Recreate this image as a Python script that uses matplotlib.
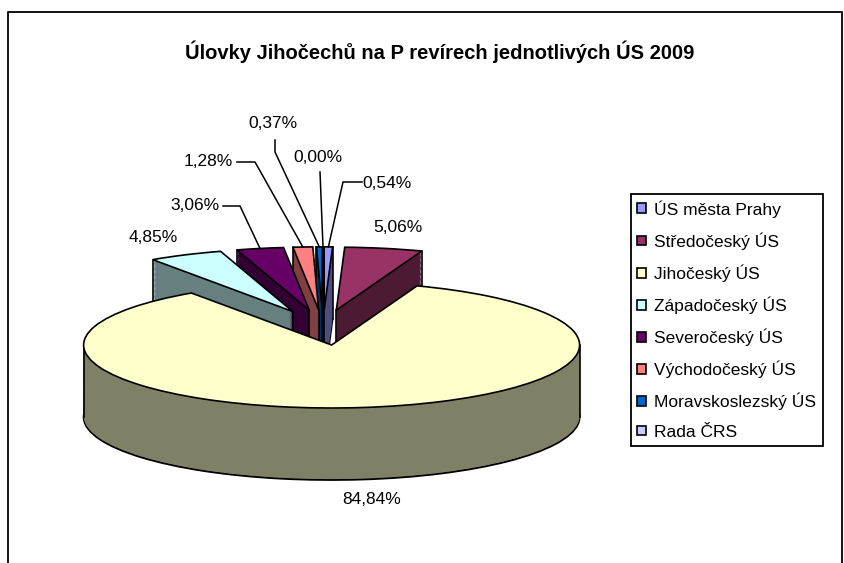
import numpy as np
import matplotlib
matplotlib.use("Agg")
import matplotlib.pyplot as plt
from matplotlib.lines import Line2D

plt.rcParams['font.family'] = ['Liberation Sans', 'DejaVu Sans']

title = "Úlovky Jihočechů na P revírech jednotlivých ÚS 2009"
labels = ['ÚS města Prahy', 'Středočeský ÚS', 'Jihočeský ÚS', 'Západočeský ÚS',
          'Severočeský ÚS', 'Východočeský ÚS', 'Moravskoslezský ÚS', 'Rada ČRS']
values = [0.54, 5.06, 84.84, 4.85, 3.06, 1.28, 0.37, 0.00]
pct_labels = ['0,54%', '5,06%', '84,84%', '4,85%', '3,06%', '1,28%', '0,37%', '0,00%']
top_colors = ['#9999FF', '#993366', '#FFFFCC', '#CCFFFF',
              '#660066', '#FF8080', '#0066CC', '#CCCCFF']
side_colors = ['#4D4D80', '#4D1A33', '#808066', '#668080',
               '#330033', '#804040', '#003366', '#666680']

# label positions in pixels from top-left, plus leader line elbows
label_pos = [(387, 183), (398, 228), (372, 500), (153, 237),
             (195, 206), (208, 162), (273, 123), (318, 157)]
leader_pts = [[(343, 182), (362, 182)], [], [], [],
              [(240, 206), (223, 206)], [(255, 162), (237, 162)],
              [(275, 152), (275, 140)], [(320, 172)]]

W, H = 845, 563
cx, cy = 323, 327.5     # pie centre (px)
rx, ry = 248, 63        # half axes of the pie top (px)
depth = 72 / ry
explode = 0.28


def to_data(px, py):
    return (px - cx) / rx, (cy - py) / ry


fig = plt.figure(figsize=(W / 100, H / 100), dpi=100)
ax = fig.add_axes([0, 0, 1, 1])

total = sum(values)
start = (np.cumsum(values) - np.array(values)) / total * 360
span = np.array(values) / total * 360
mid = start + span / 2
# back slices get drawn first
rank = np.argsort(np.argsort(-np.cos(np.radians(mid))))

# side walls: stacked copies of the pie shifted down
n_layers = 60
for i, off in enumerate(np.linspace(depth, 0, n_layers)):
    if i == 0:
        wp = dict(linewidth=1.3, edgecolor='black')
    else:
        wp = dict(linewidth=0, edgecolor='none')
    wedges, _ = ax.pie(values, startangle=90, counterclock=False,
                       explode=[explode] * len(values), center=(0, -off),
                       colors=side_colors, wedgeprops=wp)
    for k, w in enumerate(wedges):
        w.set_zorder(10 * rank[k] + 1 + i / n_layers)

# vertical edges at the left/right extremes of each slice
for k in range(len(values)):
    phi = np.radians(mid[k])
    px0, py0 = explode * np.sin(phi), explode * np.cos(phi)
    angs = [start[k], start[k] + span[k]]
    angs += [a for a in (90, 270) if start[k] < a < start[k] + span[k]]
    xs = [px0] + [px0 + np.sin(np.radians(a)) for a in angs]
    ys = [py0] + [py0 + np.cos(np.radians(a)) for a in angs]
    for j in (int(np.argmin(xs)), int(np.argmax(xs))):
        ax.plot([xs[j], xs[j]], [ys[j], ys[j] - depth], color='black',
                lw=1.2, zorder=10 * rank[k] + 5)

# top faces
wedges, _ = ax.pie(values, startangle=90, counterclock=False,
                   explode=[explode] * len(values), center=(0, 0),
                   colors=top_colors, wedgeprops=dict(linewidth=1.2, edgecolor='black'))
for k, w in enumerate(wedges):
    w.set_zorder(10 * rank[k] + 8)

# percent labels and leader lines
for k in range(len(values)):
    phi = np.radians(mid[k])
    tx, ty = to_data(*label_pos[k])
    ax.text(tx, ty, pct_labels[k], ha='center', va='center', fontsize=12.5, zorder=200)
    if leader_pts[k]:
        ex = (1 + explode) * np.sin(phi)
        ey = (1 + explode) * np.cos(phi)
        pts = [(ex, ey)] + [to_data(*p) for p in leader_pts[k]]
        ax.plot([p[0] for p in pts], [p[1] for p in pts], color='black', lw=1.1, zorder=200)

ax.set_aspect('auto')
ax.set_xlim(to_data(0, 0)[0], to_data(W, 0)[0])
ax.set_ylim(to_data(0, H)[1], to_data(0, 0)[1])
ax.axis('off')

fig.text(440 / W, 1 - 52 / H, title, ha='center', va='center',
         fontsize=14.5, fontweight='bold')

leg = ax.legend(wedges, labels, loc='upper left',
                bbox_to_anchor=(631 / W, 1 - 194 / H), bbox_transform=fig.transFigure,
                fontsize=12.5, frameon=True, fancybox=False, framealpha=1,
                edgecolor='black', handlelength=0.5, handleheight=0.5,
                handletextpad=0.5, labelspacing=0.84, borderpad=0.35, borderaxespad=0)
leg.get_frame().set_linewidth(1.3)
leg.set_zorder(300)

fig.add_artist(Line2D([8 / W, 8 / W, 842 / W, 842 / W], [0, 1 - 12 / H, 1 - 12 / H, 0],
                      color='black', lw=1.3))

fig.savefig('out.png', dpi=100)
